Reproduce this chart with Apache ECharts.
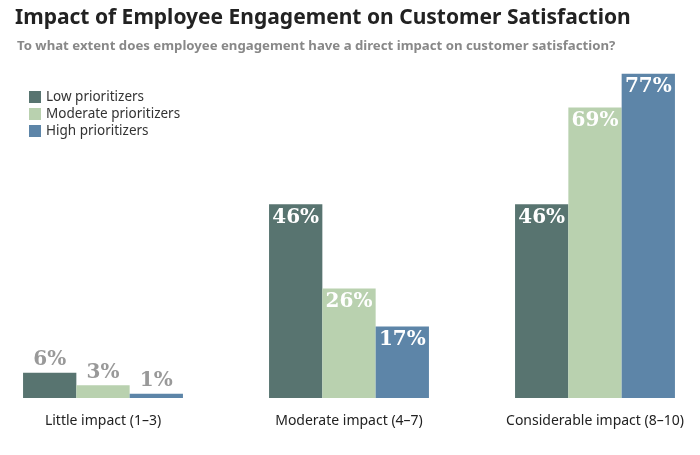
<!DOCTYPE html>
<html><head><meta charset="utf-8">
<script src="https://cdn.jsdelivr.net/npm/echarts@6/dist/echarts.min.js"></script>
<style>html,body{margin:0;padding:0;background:#fff;overflow:hidden}#c{position:absolute;left:-20px;top:0;width:738px;height:455px}</style>
</head><body><div id="c"></div>
<script>
var categories = ['Little impact (1–3)', 'Moderate impact (4–7)', 'Considerable impact (8–10)'];
var seriesNames = ['Low prioritizers', 'Moderate prioritizers', 'High prioritizers'];
var lowValues = [6, 46, 46];
var moderateValues = [3, 26, 69];
var highValues = [1, 17, 77];
var colors = ['#587470', '#b9d1af', '#5d85a8'];

function labelFor() {
  return {
    show: true,
    formatter: function (p) { return p.value + '%'; },
    fontFamily: 'DejaVu Serif',
    fontWeight: 'bold',
    fontSize: 20,
    position: 'insideTop',
    distance: 3,
    color: '#fff'
  };
}
function dataFor(values) {
  return values.map(function (v) {
    if (v < 10) {
      return { value: v, label: { position: 'top', distance: 3, color: '#999' } };
    }
    return v;
  });
}
var all = [lowValues, moderateValues, highValues];
var chart = echarts.init(document.getElementById('c'));
chart.setOption({
  animation: false,
  title: [{
    text: 'Impact of Employee Engagement on Customer Satisfaction',
    left: 30, top: 3,
    textStyle: { fontFamily: 'Noto Sans', fontWeight: 'bold', fontSize: 21, color: '#222' }
  }, {
    text: 'To what extent does employee engagement have a direct impact on customer satisfaction?',
    left: 32, top: 35,
    textStyle: { fontFamily: 'Noto Sans', fontWeight: 'bold', fontSize: 13.2, color: '#888' }
  }],
  legend: {
    orient: 'vertical', left: 44, top: 85,
    itemWidth: 12, itemHeight: 12, itemGap: 3,
    textStyle: { fontFamily: 'Noto Sans', fontSize: 13.5, color: '#333' },
    icon: 'rect',
    data: seriesNames
  },
  grid: { left: 0, right: 0, top: 57, bottom: 57 },
  xAxis: {
    type: 'category', data: categories,
    axisLine: { show: false }, axisTick: { show: false },
    axisLabel: { fontFamily: 'Noto Sans', fontSize: 14, color: '#222', margin: 16 }
  },
  yAxis: { type: 'value', min: 0, max: 81, show: false, splitLine: { show: false } },
  series: seriesNames.map(function (n, i) {
    return {
      name: n, type: 'bar', data: dataFor(all[i]),
      barGap: '0%', barCategoryGap: '35%',
      itemStyle: { color: colors[i] },
      label: labelFor()
    };
  })
});
</script></body></html>
